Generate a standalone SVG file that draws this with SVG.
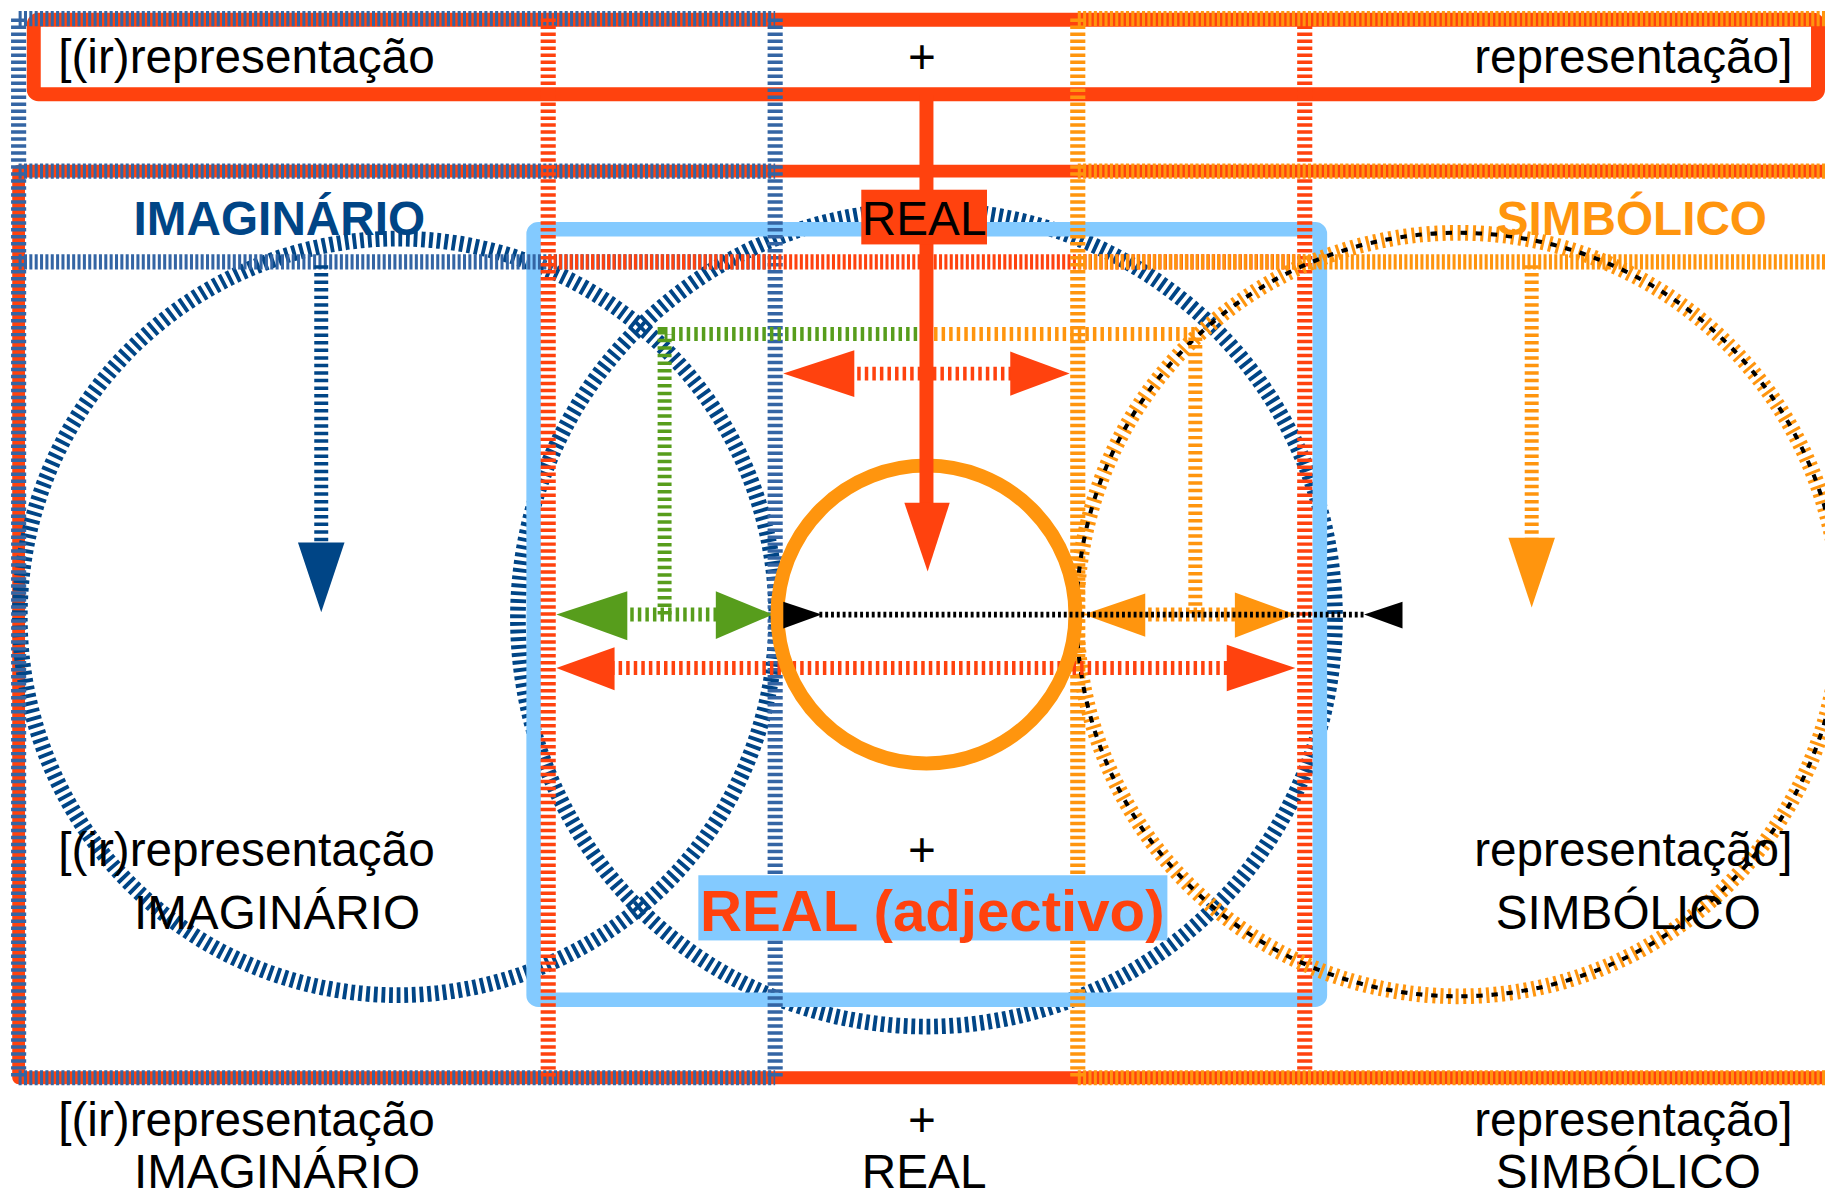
<svg xmlns="http://www.w3.org/2000/svg" width="1825" height="1196" viewBox="0 0 1825 1196">
<defs>
<style>
.t{font-family:"Liberation Sans",Arial,sans-serif;font-size:41px;fill:#000}
.b{font-weight:bold}
.gh{fill:none;stroke-width:13;stroke-dasharray:2.6 2}
.gv{fill:none;stroke-width:13;stroke-dasharray:3 3}
.ci{fill:none;stroke-width:13.5;stroke-dasharray:3.3 3.3}
.sh{fill:none;stroke-width:12;stroke-dasharray:3 3.5}
</style>
</defs>
<rect width="1825" height="1196" fill="#ffffff"/>
<g transform="scale(1.1639)">
<g id="frame">
<rect x="29" y="17" width="1533" height="64" rx="4" fill="none" stroke="#ff420e" stroke-width="12"/>
<path d="M1580,147 H16 V926 H1580" fill="none" stroke="#ff420e" stroke-width="11" stroke-linejoin="round"/>
</g>
<g id="circle-imaginario"><circle cx="342" cy="530" r="325" class="ci" stroke="#004586"/></g>
<g id="circle-real"><circle cx="796" cy="531" r="351" class="ci" stroke="#004586"/></g>
<g id="real-box"><rect x="458.5" y="197" width="675.5" height="662" rx="4" fill="none" stroke="#83caff" stroke-width="12.5"/></g>
<g id="guides">
<path class="gh" stroke="#3465a4" d="M16,16 H666 M16,147 H666 M16,225 H666 M16,926 H666"/>
<path class="gv" stroke="#3465a4" d="M16,16 V926 M666,16 V926"/>
<path class="gv" stroke="#ff420e" d="M471,16 V926 M1121,16 V926"/>
<path class="gh" stroke="#ff420e" d="M471,225 H1121"/>
<path class="gv" stroke="#ff950e" d="M926,16 V926"/>
<path class="gh" stroke="#ff950e" d="M926,16 H1580 M926,147 H1580 M926,225 H1580 M926,926 H1580"/>
</g>
<g id="circle-simbolico">
<circle cx="1253" cy="528" r="328" fill="none" stroke-width="13.5" stroke-dasharray="2.6 4" stroke="#ff950e"/>
<circle cx="1253" cy="528" r="328" fill="none" stroke="#000" stroke-width="3.5" stroke-dasharray="5.5 7.5"/>
</g>
<g id="connectors">
<line class="sh" stroke="#004586" x1="276" y1="228" x2="276" y2="468"/>
<polygon fill="#004586" points="256,466 296,466 276,526"/>
<line class="sh" stroke="#ff950e" x1="1316" y1="228" x2="1316" y2="464"/>
<polygon fill="#ff950e" points="1296,462 1336,462 1316,522"/>
<path class="sh" stroke="#579d1c" d="M571,528 V287 H800"/>
<path class="sh" stroke="#ff950e" d="M796,287 H1027 V528"/>
<line class="sh" stroke="#579d1c" x1="535" y1="528" x2="618" y2="528"/>
<polygon fill="#579d1c" points="478,528 539,508 539,550"/>
<polygon fill="#579d1c" points="664,528 615,508 615,549"/>
<line class="sh" stroke="#ff950e" x1="980" y1="528" x2="1064" y2="528"/>
<polygon fill="#ff950e" points="931,528 984,510 984,547"/>
<polygon fill="#ff950e" points="1113,528 1061,509 1061,548"/>
<line class="sh" stroke="#ff420e" x1="730" y1="321" x2="870" y2="321"/>
<polygon fill="#ff420e" points="673,321 734,301 734,341"/>
<polygon fill="#ff420e" points="919,321 868,302 868,340"/>
<line class="sh" stroke="#ff420e" x1="525" y1="574" x2="1057" y2="574"/>
<polygon fill="#ff420e" points="478,574 528,556 528,593"/>
<polygon fill="#ff420e" points="1113,574 1054,554 1054,594"/>
</g>
<g id="circle-core"><circle cx="796" cy="528" r="128" fill="none" stroke="#ff950e" stroke-width="12"/></g>
<g id="connectors-top">
<line stroke="#ff420e" stroke-width="12" x1="796" y1="82" x2="796" y2="440"/>
<polygon fill="#ff420e" points="777,432 816,432 797,491"/>
<line stroke="#000" stroke-width="5" stroke-dasharray="2.5 2.5" x1="704" y1="528" x2="1174" y2="528"/>
<polygon fill="#000" points="673,517 706,528 673,540"/>
<polygon fill="#000" points="1205,517 1172,528 1205,540"/>
</g>
<g id="label-real">
<rect x="740" y="163" width="108" height="47" fill="#ff420e"/>
<text class="t" x="794" y="202" text-anchor="middle">REAL</text>
</g>
<g id="label-imaginario"><text class="t b" x="240" y="202" text-anchor="middle" style="fill:#004586">IMAGINÁRIO</text></g>
<g id="label-simbolico"><text class="t b" x="1402" y="202" text-anchor="middle" style="fill:#ff950e">SIMBÓLICO</text></g>
<g id="label-adjectivo">
<rect x="600" y="752" width="403" height="56" fill="#83caff"/>
<text class="t b" x="801" y="800" text-anchor="middle" style="fill:#ff420e;font-size:50px">REAL (adjectivo)</text>
</g>
<g id="row-top">
<text class="t" x="50" y="63">[(ir)representação</text>
<text class="t" x="792" y="63" text-anchor="middle">+</text>
<text class="t" x="1540" y="63" text-anchor="end">representação]</text>
</g>
<g id="row-middle">
<text class="t" x="50" y="744">[(ir)representação</text>
<text class="t" x="238" y="798" text-anchor="middle">IMAGINÁRIO</text>
<text class="t" x="792" y="744" text-anchor="middle">+</text>
<text class="t" x="1540" y="744" text-anchor="end">representação]</text>
<text class="t" x="1399" y="798" text-anchor="middle">SIMBÓLICO</text>
</g>
<g id="row-bottom">
<text class="t" x="50" y="976">[(ir)representação</text>
<text class="t" x="238" y="1021" text-anchor="middle">IMAGINÁRIO</text>
<text class="t" x="792" y="976" text-anchor="middle">+</text>
<text class="t" x="794" y="1021" text-anchor="middle">REAL</text>
<text class="t" x="1540" y="976" text-anchor="end">representação]</text>
<text class="t" x="1399" y="1021" text-anchor="middle">SIMBÓLICO</text>
</g>
</g>
</svg>
